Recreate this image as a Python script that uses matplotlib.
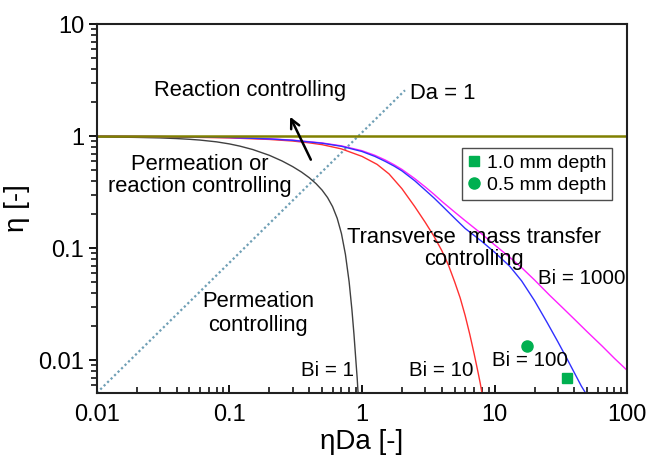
import numpy as np
import matplotlib
matplotlib.use('Agg')
import matplotlib.pyplot as plt

plt.rcParams['font.family'] = ['Liberation Sans', 'DejaVu Sans']

# curves (x = eta*Da, y = eta)
bi1_x = [0.01, 0.015, 0.02, 0.03, 0.04, 0.05, 0.06, 0.08, 0.1, 0.12, 0.15, 0.2, 0.25, 0.3,
         0.35, 0.4, 0.45, 0.5, 0.55, 0.6, 0.65, 0.7, 0.75, 0.8, 0.84, 0.87, 0.9, 0.92, 0.935]
bi1_y = [0.985, 0.98, 0.975, 0.965, 0.952, 0.938, 0.923, 0.89, 0.853, 0.815, 0.76, 0.675, 0.6, 0.535,
         0.478, 0.426, 0.377, 0.33, 0.283, 0.235, 0.185, 0.135, 0.088, 0.05, 0.028, 0.017, 0.0098, 0.0069, 0.005]

bi10_x = [0.01, 0.03, 0.1, 0.2, 0.3, 0.4, 0.5, 0.7, 1.0, 1.3, 1.6, 2.0, 2.5, 3.0, 3.5, 4.0,
          4.5, 5.0, 5.5, 6.0, 6.5, 7.0, 7.5, 7.8, 8.05]
bi10_y = [0.997, 0.99, 0.965, 0.935, 0.905, 0.872, 0.84, 0.77, 0.66, 0.56, 0.46, 0.34, 0.235, 0.17,
          0.127, 0.095, 0.07, 0.05, 0.036, 0.025, 0.017, 0.0115, 0.0078, 0.0062, 0.005]

bi100_x = [0.01, 0.03, 0.1, 0.2, 0.3, 0.5, 0.7, 1.0, 1.25, 1.5, 1.75, 2.0, 2.5, 3.0, 3.5, 4.0,
           5.0, 6.0, 8.0, 10, 13, 16, 20, 25, 30, 35, 40, 45, 49]
bi100_y = [0.998, 0.992, 0.973, 0.945, 0.918, 0.865, 0.812, 0.73, 0.66, 0.595, 0.54, 0.49, 0.4, 0.33,
           0.28, 0.24, 0.185, 0.15, 0.115, 0.092, 0.069, 0.051, 0.034, 0.0215, 0.0146, 0.0104, 0.0077, 0.0059, 0.005]

bi1000_x = [0.01, 0.03, 0.1, 0.2, 0.3, 0.5, 0.7, 1.0, 1.25, 1.5, 1.75, 2.0, 2.5, 3.0, 3.5, 4.0,
            5.0, 6.0, 8.0, 10, 13, 16, 20, 26, 32, 40, 50, 65, 80, 100]
bi1000_y = [0.999, 0.993, 0.975, 0.948, 0.922, 0.87, 0.82, 0.742, 0.675, 0.612, 0.555, 0.505, 0.418, 0.352,
            0.302, 0.262, 0.21, 0.176, 0.134, 0.107, 0.083, 0.067, 0.052, 0.038, 0.030, 0.0232, 0.0179, 0.0133, 0.0104, 0.0081]

limit_x = [0.01, 100]
limit_y = [1, 1]

da1_x = [0.01, 2.11]
da1_y = [0.0051, 2.57]

# experiments
depth10_x = [35.2]
depth10_y = [0.0070]
depth05_x = [17.6]
depth05_y = [0.0133]

fig = plt.figure(figsize=(6.54, 4.65), dpi=100)
ax = fig.add_axes([0.148, 0.155, 0.811, 0.793])

ax.plot(da1_x, da1_y, color='#6f9fb5', lw=1.6, ls=(0, (1, 1.2)))
ax.plot(bi1_x, bi1_y, color='#404040', lw=1)
ax.plot(bi10_x, bi10_y, color='#ff3030', lw=1)
ax.plot(bi1000_x, bi1000_y, color='#ff20ff', lw=1)
ax.plot(bi100_x, bi100_y, color='#3030ff', lw=1)
ax.plot(limit_x, limit_y, color='#808000', lw=1.8)

h1, = ax.plot(depth10_x, depth10_y, 's', color='#00b050', ms=7, label='1.0 mm depth')
h2, = ax.plot(depth05_x, depth05_y, 'o', color='#00b050', ms=8, label='0.5 mm depth')

ax.set_xscale('log')
ax.set_yscale('log')
ax.set_xlim(0.01, 100)
ax.set_ylim(0.0051, 10)
ax.set_xticks([0.01, 0.1, 1, 10, 100])
ax.set_xticklabels(['0.01', '0.1', '1', '10', '100'])
ax.set_yticks([0.01, 0.1, 1, 10])
ax.set_yticklabels(['0.01', '0.1', '1', '10'])

for s in ax.spines.values():
    s.set_linewidth(1.5)
    s.set_color('#202020')

ax.tick_params(axis='x', which='major', direction='in', length=6, width=1.3, labelsize=17, pad=8)
ax.tick_params(axis='x', which='minor', direction='in', length=4, width=1.1)
ax.tick_params(axis='y', which='major', direction='out', length=6, width=1.3, labelsize=17, pad=3)
ax.tick_params(axis='y', which='minor', direction='out', length=4, width=1.1)

ax.set_xlabel('ηDa [-]', fontsize=20, labelpad=2)
ax.set_ylabel('η [-]', fontsize=20, labelpad=6)

fs = 15.8
ax.text(0.143, 2.57, 'Reaction controlling', fontsize=fs, ha='center', va='center')
ax.text(2.3, 2.42, 'Da = 1', fontsize=fs, ha='left', va='center')
ax.text(0.06, 0.449, 'Permeation or\nreaction controlling', fontsize=fs, ha='center', va='center',
        linespacing=1.05)
ax.text(7.0, 0.1, 'Transverse  mass transfer\ncontrolling', fontsize=fs, ha='center', va='center',
        linespacing=1.05)
ax.text(0.164, 0.0263, 'Permeation\ncontrolling', fontsize=fs, ha='center', va='center',
        linespacing=1.2)
ax.text(45.7, 0.054, 'Bi = 1000', fontsize=fs - 1, ha='center', va='center')
ax.text(0.545, 0.00814, 'Bi = 1', fontsize=fs - 1, ha='center', va='center')
ax.text(3.95, 0.00814, 'Bi = 10', fontsize=fs - 1, ha='center', va='center')
ax.text(18.5, 0.0100, 'Bi = 100', fontsize=fs - 1, ha='center', va='center')

ax.annotate('', xy=(0.281, 1.57), xytext=(0.42, 0.586),
            arrowprops=dict(arrowstyle='->', color='black', lw=1.8, mutation_scale=16))

leg = ax.legend(handles=[h1, h2], loc='upper right', bbox_to_anchor=(0.972, 0.664),
                fontsize=14, frameon=True, fancybox=False, edgecolor='#202020',
                handlelength=0.6, handletextpad=0.4, borderpad=0.3, labelspacing=0.25,
                borderaxespad=0)
leg.get_frame().set_linewidth(1.0)

fig.savefig('out.png', dpi=100)
